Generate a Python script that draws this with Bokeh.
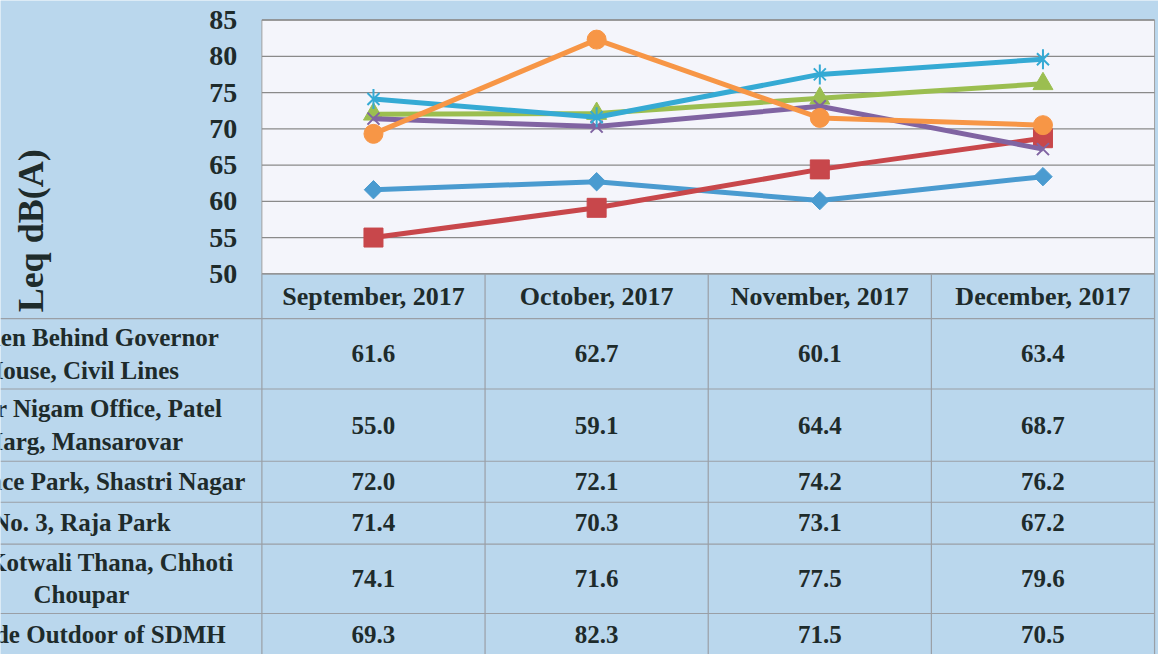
import numpy as np
from bokeh.plotting import figure
from bokeh.models import Range1d
from bokeh.core.properties import value
from bokeh.embed import file_html
from bokeh.resources import INLINE

# ---------------- data ----------------
months = ["September, 2017", "October, 2017", "November, 2017", "December, 2017"]
sites = [
    "Garden Behind Governor\nHouse, Civil Lines",
    "Nagar Nigam Office, Patel\nMarg, Mansarovar",
    "Residence Park, Shastri Nagar",
    "No. 3, Raja Park",
    "Near Kotwali Thana, Chhoti\nChoupar",
    "Outside Outdoor of SDMH",
]
governor_house = [61.6, 62.7, 60.1, 63.4]
nagar_nigam = [55.0, 59.1, 64.4, 68.7]
shastri_nagar = [72.0, 72.1, 74.2, 76.2]
raja_park = [71.4, 70.3, 73.1, 67.2]
chhoti_choupar = [74.1, 71.6, 77.5, 79.6]
sdmh = [69.3, 82.3, 71.5, 70.5]
series = [governor_house, nagar_nigam, shastri_nagar, raja_park, chhoti_choupar, sdmh]
y_ticks = [50, 55, 60, 65, 70, 75, 80, 85]
y_tick_labels = ["50", "55", "60", "65", "70", "75", "80", "85"]
axis_title = "Leq dB(A)"

# ---------------- layout (reference-image units) ----------------
W, H = 1158, 654            # figure size in screen px
RW, RH = 1174, 670          # layout units covered by the figure
PLOT_L, PLOT_R, PLOT_T, PLOT_B = 265, 1170, 20, 280
YMIN, YMAX = y_ticks[0], y_ticks[-1]
ROW_LINES = [326, 398, 472, 514, 557, 628]
ROW_CENTERS = [362, 435, 493, 535, 592, 649]
HEADER_CY = 303
LABEL_CX = 82

BG = "#BAD7ED"
TXT = "#1E2B2B"
FONT = value("Liberation Serif")

col_w = (PLOT_R - PLOT_L) / len(months)
cols_start = (0 - PLOT_L) / col_w
cols_end = (RW - PLOT_L) / col_w
ppu = (PLOT_B - PLOT_T) / (YMAX - YMIN)
leq_top = YMAX + (PLOT_T - 0) / ppu
leq_bot = YMIN - (RH - PLOT_B) / ppu

p = figure(width=W, height=H, output_backend="svg", toolbar_location=None,
           x_range=Range1d(0, RW), y_range=Range1d(RH, 0),
           min_border=0, background_fill_color=BG, border_fill_color=BG,
           outline_line_color=None, tools="")
p.extra_x_ranges = {"cols": Range1d(cols_start, cols_end)}
p.extra_y_ranges = {"leq": Range1d(leq_bot, leq_top)}
p.axis.visible = False
p.grid.visible = False

ncol = len(months)
xc = [i + 0.5 for i in range(ncol)]

# plot area
p.quad(left=[0], right=[ncol], bottom=[YMIN], top=[YMAX], x_range_name="cols",
       y_range_name="leq", fill_color="#F4F5FB", line_color="#A0A0A0", line_width=1)
# gridlines
p.segment(x0=[0] * len(y_ticks), x1=[ncol] * len(y_ticks), y0=y_ticks, y1=y_ticks,
          x_range_name="cols", y_range_name="leq", line_color="#8A8A8A", line_width=1.3)
# tick labels
p.text(x=[240] * len(y_ticks), y=y_ticks, text=y_tick_labels, y_range_name="leq",
       text_font=FONT, text_font_style="bold", text_font_size="28px",
       text_align="right", text_baseline="middle", text_color=TXT)
# axis title
p.text(x=[31], y=[236], text=[axis_title], angle=np.pi / 2, text_font=FONT,
       text_font_style="bold", text_font_size="36px", text_align="center",
       text_baseline="middle", text_color=TXT)

# series
colors = ["#4A9BD0", "#C8474B", "#9BBE50", "#8064A2", "#35AAD4", "#F79646"]
for i, (vals, c) in enumerate(zip(series, colors)):
    p.line(x=xc, y=vals, x_range_name="cols", y_range_name="leq", line_color=c,
           line_width=5)
    kw = dict(x=xc, y=vals, x_range_name="cols", y_range_name="leq", color=c)
    if i == 0:
        p.scatter(marker="square", size=13, angle=np.pi / 4, **kw)
    elif i == 1:
        p.scatter(marker="square", size=19, **kw)
    elif i == 2:
        p.scatter(marker="triangle", size=20, **kw)
    elif i == 3:
        p.scatter(marker="x", size=17, line_width=2, **kw)
    elif i == 4:
        p.scatter(marker="x", size=17, line_width=2, **kw)
        p.scatter(marker="dash", size=20, angle=np.pi / 2, line_width=2, **kw)
    else:
        p.scatter(marker="circle", size=19, **kw)

# table grid
nl = len(ROW_LINES)
p.segment(x0=[0] * nl, x1=[PLOT_R] * nl, y0=ROW_LINES, y1=ROW_LINES,
          line_color="#9A9FA6", line_width=1.2)
p.segment(x0=list(range(ncol + 1)), x1=list(range(ncol + 1)),
          y0=[PLOT_B] * (ncol + 1), y1=[RH + 20] * (ncol + 1),
          x_range_name="cols", line_color="#9A9FA6", line_width=1.2)

# header
p.text(x=xc, y=[HEADER_CY] * ncol, text=months, x_range_name="cols", text_font=FONT,
       text_font_style="bold", text_font_size="26px", text_align="center",
       text_baseline="middle", text_color=TXT)

# values
vx, vy, vt = [], [], []
for r, vals in enumerate(series):
    for c, v in enumerate(vals):
        vx.append(c + 0.5)
        vy.append(ROW_CENTERS[r])
        vt.append(f"{v:.1f}")
p.text(x=vx, y=vy, text=vt, x_range_name="cols", text_font=FONT,
       text_font_style="bold", text_font_size="25px", text_align="center",
       text_baseline="middle", text_color=TXT)

# row labels
p.text(x=[LABEL_CX] * len(sites), y=ROW_CENTERS, text=sites, text_font=FONT,
       text_font_style="bold", text_font_size="25px", text_align="center",
       text_baseline="middle", text_color=TXT, text_line_height=1.2)

open("out.html", "w").write(file_html(p, INLINE))
